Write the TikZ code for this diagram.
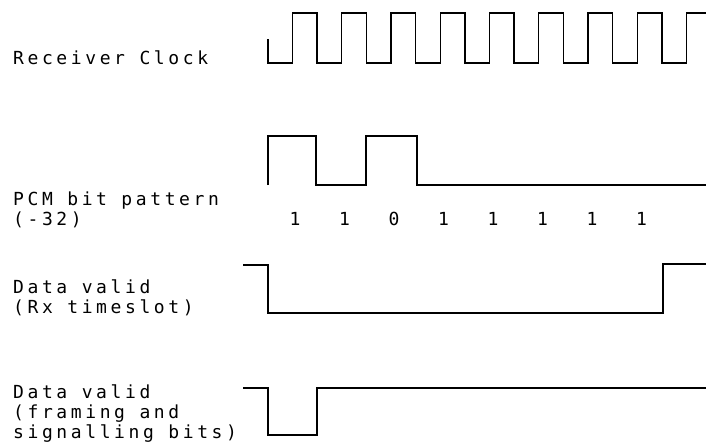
\documentclass[tikz,border=0pt]{standalone}
\usepackage{fontspec}
\newfontfamily\plotfont[LetterSpace=20]{DejaVu Sans Mono}
\tikzset{
  wave/.style={line width=1.3pt, line join=miter},
  sigtext/.style={anchor=base west, align=left, inner sep=0pt,
    font=\plotfont\fontsize{18}{20}\selectfont},
  bitval/.style={anchor=base, inner sep=0pt,
    font=\plotfont\fontsize{18}{20}\selectfont}
}
\begin{document}
\begin{tikzpicture}[x=1pt,y=-1pt]
            \useasboundingbox (0,0) rectangle (706,447);
            % signal names (base = last line)
            \node [sigtext] (clk) at (13,64) {Receiver Clock};
            \node [sigtext] (pcm) at (13,225.5) {PCM bit pattern\\(-32)};
            \node [sigtext] (rx) at (13,313.5) {Data valid\\(Rx timeslot)};
            \node [sigtext] (frm) at (13,438.5) {Data valid\\(framing and\\signalling bits)};
            % receiver clock
            \draw [wave] (268,39) -- (268,63)
                foreach \k in {0,...,7} { -- ({292.5+49.25*\k},63) -- ++(0,-50) -- ++(24.6,0) -- ++(0,50) }
                -- (686.5,63) -- (686.5,13) -- (706,13);
            % PCM bits
            \draw [wave] (268,185) -- (268,136) -- (316,136) -- (316,185) -- (366,185)
                -- (366,136) -- (417,136) -- (417,185) -- (706,185);
            \foreach \b [count=\i from 0] in {1,1,0,1,1,1,1,1}
                \node [bitval] (bit\i) at ({295+49.5*\i},225.5) {\b};
            % data valid
            \draw [wave] (243,265) -- (268,265) -- (268,313) -- (663,313) -- (663,264) -- (706,264);
            \draw [wave] (243,388) -- (268,388) -- (268,435) -- (317,435) -- (317,388) -- (706,388);
        \end{tikzpicture}
\end{document}
